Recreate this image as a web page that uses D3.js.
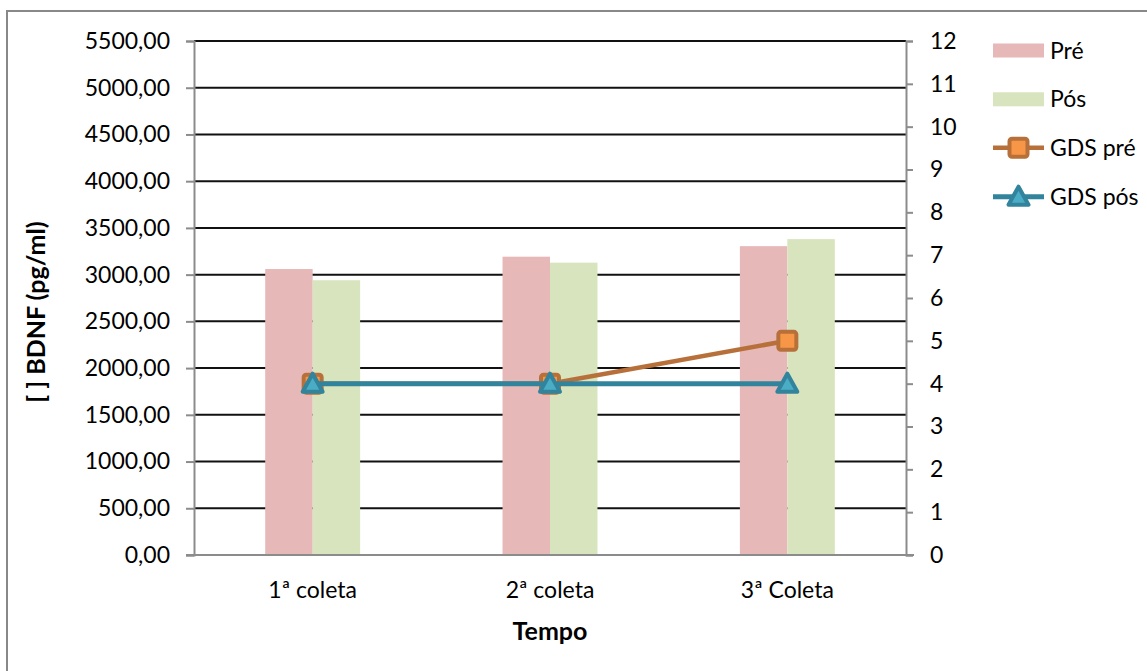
<!DOCTYPE html>
<html><head><meta charset="utf-8">
<script src="https://cdn.jsdelivr.net/npm/d3@7"></script>
<style>
body{margin:0;background:#fff}
svg{display:block}
text{font-family:Lato,"Open Sans",sans-serif;fill:#000}
</style></head>
<body>
<script>
const categories = ["1ª coleta", "2ª coleta", "3ª Coleta"];
const bdnfPre = [3060, 3192, 3305];
const bdnfPos = [2940, 3128, 3380];
const gdsPre = [4, 4, 5];
const gdsPos = [4, 4, 4];
const leftTicks = [0, 500, 1000, 1500, 2000, 2500, 3000, 3500, 4000, 4500, 5000, 5500];
const rightTicks = [0, 1, 2, 3, 4, 5, 6, 7, 8, 9, 10, 11, 12];
const legendLabels = ["Pré", "Pós", "GDS pré", "GDS pós"];

const W = 1147, H = 671;
const L = 194, R = 906, T = 41, B = 555;
const fs = 23;

const svg = d3.select("body").append("svg").attr("width", W).attr("height", H);
svg.append("rect").attr("x", 7).attr("y", 11).attr("width", W + 20).attr("height", H + 20)
  .attr("fill", "#fff").attr("stroke", "#888").attr("stroke-width", 2);

const x = d3.scaleBand().domain(categories).range([L, R]);
const y = d3.scaleLinear().domain([0, 5500]).range([B, T]);
const y2 = d3.scaleLinear().domain([0, 12]).range([B, T]);
const loc = d3.formatLocale({decimal: ",", thousands: "", grouping: [3], currency: ["", ""]});
const fmt = loc.format(".2f");

// gridlines
svg.append("g").selectAll("line").data(leftTicks.filter(d => d > 0)).join("line")
  .attr("x1", L).attr("x2", R).attr("y1", d => y(d)).attr("y2", d => y(d))
  .attr("stroke", "#111").attr("stroke-width", 2);

// bars
const bw = x.bandwidth() * 0.2;
const bars = svg.append("g");
bars.selectAll(".pre").data(categories).join("rect")
  .attr("x", d => x(d) + x.bandwidth() / 2 - bw).attr("width", bw)
  .attr("y", (d, i) => y(bdnfPre[i])).attr("height", (d, i) => B - y(bdnfPre[i]))
  .attr("fill", "#E6B9B8");
bars.selectAll(".pos").data(categories).join("rect")
  .attr("x", d => x(d) + x.bandwidth() / 2).attr("width", bw)
  .attr("y", (d, i) => y(bdnfPos[i])).attr("height", (d, i) => B - y(bdnfPos[i]))
  .attr("fill", "#D7E4BD");

// axes
const axL = svg.append("g").attr("transform", `translate(${L},0)`)
  .call(d3.axisLeft(y).tickValues(leftTicks).tickFormat(fmt).tickSize(8).tickPadding(16));
const axR = svg.append("g").attr("transform", `translate(${R},0)`)
  .call(d3.axisRight(y2).tickValues(rightTicks).tickFormat(d3.format("d")).tickSize(7).tickPadding(17));
[axL, axR].forEach(a => {
  a.select(".domain").attr("stroke", "#8c8c8c").attr("stroke-width", 2);
  a.selectAll(".tick line").attr("stroke", "#8c8c8c").attr("stroke-width", 2);
  a.selectAll("text").attr("font-size", fs).attr("font-family", "Lato").attr("fill", "#000");
});
axR.selectAll("text").attr("text-anchor", "start");
svg.append("line").attr("x1", L - 8).attr("x2", R + 8).attr("y1", B).attr("y2", B)
  .attr("stroke", "#8c8c8c").attr("stroke-width", 2);

// category labels
svg.append("g").selectAll("text").data(categories).join("text")
  .attr("x", d => x(d) + x.bandwidth() / 2).attr("y", 598)
  .attr("text-anchor", "middle").attr("font-size", fs).text(d => d);

// axis titles
svg.append("text").attr("x", (L + R) / 2).attr("y", 640).attr("text-anchor", "middle")
  .attr("font-size", 25).attr("font-weight", "bold").text("Tempo");
svg.append("text").attr("transform", `translate(45,${(T + B) / 2 + 14}) rotate(-90)`)
  .attr("text-anchor", "middle").attr("font-size", 25).attr("font-weight", "bold")
  .text("[ ] BDNF (pg/ml)");

// lines
const cx = d => x(d) + x.bandwidth() / 2;
const linePre = d3.line().x((d, i) => cx(categories[i])).y(d => y2(d));
const preColor = "#B8703A", posColor = "#31849B";
function square(g, px, py) {
  g.append("rect").attr("x", px - 9).attr("y", py - 9).attr("width", 18).attr("height", 18)
    .attr("rx", 2.5).attr("fill", "#F79646").attr("stroke", preColor).attr("stroke-width", 4);
}
function tri(g, px, py) {
  const s = 10;
  g.append("path").attr("d", `M${px},${py - s}L${px + s},${py + s * 0.8}L${px - s},${py + s * 0.8}Z`)
    .attr("fill", "#4BACC6").attr("stroke", posColor).attr("stroke-width", 4).attr("stroke-linejoin", "round");
}
const gPre = svg.append("g");
gPre.append("path").datum(gdsPre).attr("d", linePre).attr("fill", "none")
  .attr("stroke", preColor).attr("stroke-width", 4.5);
gdsPre.forEach((v, i) => square(gPre, cx(categories[i]), y2(v)));
const gPos = svg.append("g");
gPos.append("path").datum(gdsPos).attr("d", linePre).attr("fill", "none")
  .attr("stroke", posColor).attr("stroke-width", 5);
gdsPos.forEach((v, i) => tri(gPos, cx(categories[i]), y2(v)));

// legend
const lg = svg.append("g");
const ly = [50.5, 99.3, 147.7, 196.7];
const lx1 = 993, lx2 = 1044;
lg.append("rect").attr("x", lx1).attr("y", ly[0] - 7).attr("width", lx2 - lx1).attr("height", 14).attr("fill", "#E6B9B8");
lg.append("rect").attr("x", lx1).attr("y", ly[1] - 7).attr("width", lx2 - lx1).attr("height", 14).attr("fill", "#D7E4BD");
lg.append("line").attr("x1", lx1).attr("x2", lx2).attr("y1", ly[2]).attr("y2", ly[2]).attr("stroke", preColor).attr("stroke-width", 4.5);
square(lg, (lx1 + lx2) / 2, ly[2]);
lg.append("line").attr("x1", lx1).attr("x2", lx2).attr("y1", ly[3]).attr("y2", ly[3]).attr("stroke", posColor).attr("stroke-width", 5);
tri(lg, (lx1 + lx2) / 2, ly[3]);
lg.selectAll(".lt").data(legendLabels).join("text").attr("x", 1050).attr("y", (d, i) => ly[i] + 8)
  .attr("font-size", fs).text(d => d);
</script>
</body></html>
